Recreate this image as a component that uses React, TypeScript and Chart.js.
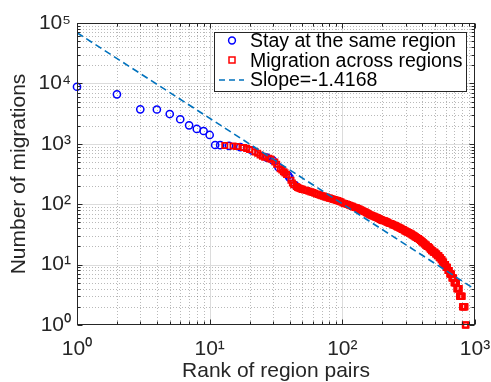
import React, { useEffect, useRef } from 'react';
import { Chart, registerables } from 'chart.js';

Chart.register(...registerables);

// ---- data ----
const stayRanks = [1, 2, 3, 4, 5, 6, 7, 8, 9, 10, 11, 12, 14, 17, 21, 27, 30, 33, 39, 40, 44];
const stayValues = [8800, 6600, 3720, 3700, 3110, 2550, 2020, 1760, 1630, 1400, 955, 950, 925, 880, 770, 590, 530, 410, 300, 275, 208];

const acrossRanks = [
  13, 15, 16, 18, 19, 20, 22, 23, 24, 25,
  26, 28, 29, 31, 32, 34, 35, 36, 37, 38,
  41, 42, 43, 45, 46, 47, 48, 49, 50, 52,
  54, 56, 58, 60, 62, 64, 66, 68, 70, 72,
  74, 76, 78, 80, 82, 84, 86, 88, 90, 92,
  94, 96, 98,
  101, 104, 107, 110, 113, 116, 119, 122, 125, 128,
  131, 134, 137, 140, 143, 146, 149, 152, 155, 158,
  161, 164, 167, 170, 173, 176, 179, 182, 185, 188,
  191, 194, 197, 200,
  204, 208, 212, 216, 220, 224, 228, 232, 236, 240,
  244, 248, 252, 256, 260, 264, 268, 272, 276, 280,
  284, 288, 292, 296, 300, 304, 308, 312, 316, 320,
  324, 328, 332, 336, 340, 344, 348, 352, 356, 360,
  364, 368, 372, 376, 380, 384, 388, 392, 396, 400,
  405, 410, 415, 420, 425, 430, 435, 440, 445, 450,
  455, 460, 465, 470, 475, 480, 485, 490, 495, 500,
  505, 510, 515, 520, 525, 530, 535, 540, 545, 550,
  555, 560, 565, 570, 575, 580, 585, 590, 595, 600,
  605, 610, 615, 620, 625, 630, 635, 640, 645, 650,
  655, 660, 665, 670, 675, 680, 685, 690, 695, 700,
  705, 710, 715, 720, 725, 730, 735, 740, 745, 750,
  755, 760, 765, 770, 775, 780, 785, 790, 795, 800,
  805, 810, 815, 820, 825, 830, 835, 840, 845, 850,
  855,
];
const acrossValues = [
  935, 920, 905, 865, 840, 805, 735, 700, 650, 620,
  600, 575, 555, 500, 460, 385, 370, 345, 330, 310,
  250, 225, 210, 196, 190, 186, 182, 179, 176, 172,
  168, 164, 160, 156, 152, 148, 145, 141, 138, 136,
  133, 131, 128, 126, 124, 122, 120, 118, 116, 115,
  113, 111, 109,
  105, 103, 101, 99, 96, 94, 92, 90, 88, 87,
  85, 83, 81, 79, 77, 76, 74, 72, 71, 69,
  67, 66, 65, 64, 63, 62, 61, 60, 59, 58,
  57, 56, 55, 54,
  53, 53, 52, 51, 50, 49, 48, 48, 47, 46,
  45, 45, 44, 43, 42, 42, 41, 40, 40, 39,
  38, 38, 37, 36, 36, 35, 35, 34, 34, 33,
  33, 32, 32, 31, 31, 30, 30, 29, 29, 28,
  28, 27, 27, 27, 26, 26, 25, 25, 24, 24,
  23, 23, 22, 22, 21, 21, 20, 20, 20, 19,
  19, 18, 18, 17, 17, 17, 16, 16, 16, 16,
  15, 15, 15, 14, 14, 14, 14, 13, 13, 13,
  12, 12, 12, 11, 11, 11, 10, 10, 10, 10,
  9, 9, 9, 9, 8, 8, 8, 8, 7, 7,
  7, 7, 7, 6, 6, 6, 6, 6, 5, 5,
  5, 5, 5, 5, 5, 4, 4, 4, 4, 4,
  4, 4, 3, 3, 3, 3, 3, 3, 3, 3,
  2, 2, 2, 2, 2, 2, 2, 2, 1, 1,
  1,
];

const slopeRanks = [1, 1000];
const slopeValues = [69000, 3.9];

const xTickValues = [1, 10, 100, 1000];
const xTickLabels = ['10\u2070', '10\u00B9', '10\u00B2', '10\u00B3'];
const yTickValues = [1, 10, 100, 1000, 10000, 100000];
const yTickLabels = ['10\u2070', '10\u00B9', '10\u00B2', '10\u00B3', '10\u2074', '10\u2075'];

const seriesNames = ['Stay at the same region', 'Migration across regions', 'Slope=-1.4168'];
const xTitle = 'Rank of region pairs';
const yTitle = 'Number of migrations';

const FONT = "'Liberation Sans', Arial, Helvetica, sans-serif";
const AXIS_COLOR = '#262626';
const BLUE = '#0000FF';
const RED = '#FF0000';
const LINE_BLUE = '#0072BD';

function minorValues(min: number, max: number): number[] {
  const out: number[] = [];
  for (let d = min; d < max; d *= 10) {
    for (let k = 2; k <= 9; k++) out.push(d * k);
  }
  return out;
}

const matlabAxes = {
  id: 'matlabAxes',
  beforeDatasetsDraw(chart: any) {
    const { ctx, chartArea: a, scales } = chart;
    const xs = scales.x;
    const ys = scales.y;
    ctx.save();
    ctx.beginPath();
    ctx.rect(a.left, a.top, a.right - a.left, a.bottom - a.top);
    ctx.clip();
    ctx.lineWidth = 1;
    ctx.strokeStyle = 'rgba(38,38,38,0.32)';
    ctx.setLineDash([1, 2]);
    for (const v of minorValues(1, 1000)) {
      const px = Math.round(xs.getPixelForValue(v)) + 0.5;
      ctx.beginPath();
      ctx.moveTo(px, a.top);
      ctx.lineTo(px, a.bottom);
      ctx.stroke();
    }
    for (const v of minorValues(1, 100000)) {
      const py = Math.round(ys.getPixelForValue(v)) + 0.5;
      ctx.beginPath();
      ctx.moveTo(a.left, py);
      ctx.lineTo(a.right, py);
      ctx.stroke();
    }
    ctx.setLineDash([]);
    ctx.strokeStyle = '#dcdcdc';
    for (const v of xTickValues) {
      const px = Math.round(xs.getPixelForValue(v)) + 0.5;
      ctx.beginPath();
      ctx.moveTo(px, a.top);
      ctx.lineTo(px, a.bottom);
      ctx.stroke();
    }
    for (const v of yTickValues) {
      const py = Math.round(ys.getPixelForValue(v)) + 0.5;
      ctx.beginPath();
      ctx.moveTo(a.left, py);
      ctx.lineTo(a.right, py);
      ctx.stroke();
    }
    ctx.restore();
  },
  afterDatasetsDraw(chart: any) {
    const { ctx, chartArea: a, scales } = chart;
    const xs = scales.x;
    const ys = scales.y;
    ctx.save();
    ctx.strokeStyle = AXIS_COLOR;
    ctx.lineWidth = 1;
    ctx.setLineDash([]);
    const L = Math.round(a.left) + 0.5;
    const R = Math.round(a.right) - 0.5;
    const T = Math.round(a.top) + 0.5;
    const B = Math.round(a.bottom) - 0.5;
    const tick = (v: number, len: number, isX: boolean) => {
      if (isX) {
        const px = Math.round(xs.getPixelForValue(v)) + 0.5;
        ctx.beginPath();
        ctx.moveTo(px, B); ctx.lineTo(px, B - len);
        ctx.moveTo(px, T); ctx.lineTo(px, T + len);
        ctx.stroke();
      } else {
        const py = Math.round(ys.getPixelForValue(v)) + 0.5;
        ctx.beginPath();
        ctx.moveTo(L, py); ctx.lineTo(L + len, py);
        ctx.moveTo(R, py); ctx.lineTo(R - len, py);
        ctx.stroke();
      }
    };
    for (const v of minorValues(1, 1000)) tick(v, 3, true);
    for (const v of xTickValues) tick(v, 5, true);
    for (const v of minorValues(1, 100000)) tick(v, 3, false);
    for (const v of yTickValues) tick(v, 5, false);
    ctx.strokeRect(L, T, R - L, B - T);

    // legend
    const lx = 214.5, ly = 32.5, lw = 252, lh = 59;
    ctx.fillStyle = '#ffffff';
    ctx.fillRect(lx, ly, lw, lh);
    ctx.strokeStyle = AXIS_COLOR;
    ctx.lineWidth = 1;
    ctx.strokeRect(lx, ly, lw, lh);
    const rows = [42, 61.5, 81];
    const mx = 232;
    ctx.strokeStyle = BLUE;
    ctx.lineWidth = 1.5;
    ctx.beginPath();
    ctx.arc(mx, 40.5, 3.4, 0, Math.PI * 2);
    ctx.stroke();
    ctx.strokeStyle = RED;
    ctx.strokeRect(mx - 3, 60 - 3, 6, 6);
    ctx.strokeStyle = LINE_BLUE;
    ctx.lineWidth = 1.5;
    ctx.setLineDash([6, 4]);
    ctx.beginPath();
    ctx.moveTo(219, 80);
    ctx.lineTo(244, 80);
    ctx.stroke();
    ctx.setLineDash([]);
    ctx.fillStyle = '#000000';
    ctx.font = `19.5px ${FONT}`;
    ctx.textAlign = 'left';
    ctx.textBaseline = 'middle';
    seriesNames.forEach((name, i) => ctx.fillText(name, 250, rows[i]));
    ctx.restore();
  },
};

export default function App() {
  const canvasRef = useRef<HTMLCanvasElement | null>(null);

  useEffect(() => {
    const canvas = canvasRef.current;
    if (!canvas) return;
    const chart = new Chart(canvas, {
      type: 'scatter',
      data: {
        datasets: [
          {
            label: seriesNames[2],
            data: slopeRanks.map((r, i) => ({ x: r, y: slopeValues[i] })),
            showLine: true,
            borderColor: LINE_BLUE,
            borderWidth: 1.6,
            borderDash: [7, 4],
            pointRadius: 0,
            fill: false,
            order: 0,
          },
          {
            label: seriesNames[1],
            data: acrossRanks.map((r, i) => ({ x: r, y: acrossValues[i] })),
            pointStyle: 'rect',
            pointRadius: 3.7,
            borderColor: RED,
            borderWidth: 1.8,
            backgroundColor: 'rgba(0,0,0,0)',
            clip: false,
            order: 1,
          },
          {
            label: seriesNames[0],
            data: stayRanks.map((r, i) => ({ x: r, y: stayValues[i] })),
            pointStyle: 'circle',
            pointRadius: 3.6,
            borderColor: BLUE,
            borderWidth: 1.5,
            backgroundColor: 'rgba(0,0,0,0)',
            clip: false,
            order: 2,
          },
        ],
      },
      options: {
        animation: false,
        responsive: false,
        devicePixelRatio: 1,
        layout: { padding: { left: 0, right: 16, top: 23, bottom: 0 } },
        plugins: {
          legend: { display: false },
          tooltip: { enabled: false },
        },
        scales: {
          x: {
            type: 'logarithmic',
            min: 1,
            max: 1000,
            afterBuildTicks: (scale: any) => {
              scale.ticks = xTickValues.map((v) => ({ value: v }));
            },
            afterFit: (scale: any) => {
              scale.height = 57;
              scale.paddingLeft = 0;
              scale.paddingRight = 0;
            },
            ticks: {
              autoSkip: false,
              maxRotation: 0,
              padding: 12,
              color: AXIS_COLOR,
              font: { family: FONT, size: 21 },
              callback: (_v: any, i: number) => xTickLabels[i],
            },
            grid: { display: false, drawTicks: false },
            border: { display: false },
            title: {
              display: true,
              text: xTitle,
              color: AXIS_COLOR,
              font: { family: FONT, size: 21, lineHeight: 1 },
              padding: { top: 0, bottom: 0 },
            },
          },
          y: {
            type: 'logarithmic',
            min: 1,
            max: 100000,
            afterBuildTicks: (scale: any) => {
              scale.ticks = yTickValues.map((v) => ({ value: v }));
            },
            afterFit: (scale: any) => {
              scale.width = 77;
              scale.paddingTop = 0;
              scale.paddingBottom = 0;
            },
            ticks: {
              autoSkip: false,
              padding: 6,
              color: AXIS_COLOR,
              font: { family: FONT, size: 21 },
              callback: (_v: any, i: number) => yTickLabels[i],
            },
            grid: { display: false, drawTicks: false },
            border: { display: false },
            title: {
              display: true,
              text: yTitle,
              color: AXIS_COLOR,
              font: { family: FONT, size: 21, lineHeight: 1 },
              padding: { top: 9, bottom: 0 },
            },
          },
        },
      },
      plugins: [matlabAxes],
    } as any);
    return () => chart.destroy();
  }, []);

  return (
    <div style={{ position: 'fixed', left: 0, top: 0, width: 491, height: 382, background: '#ffffff' }}>
      <canvas ref={canvasRef} width={491} height={382} style={{ display: 'block' }} />
    </div>
  );
}
